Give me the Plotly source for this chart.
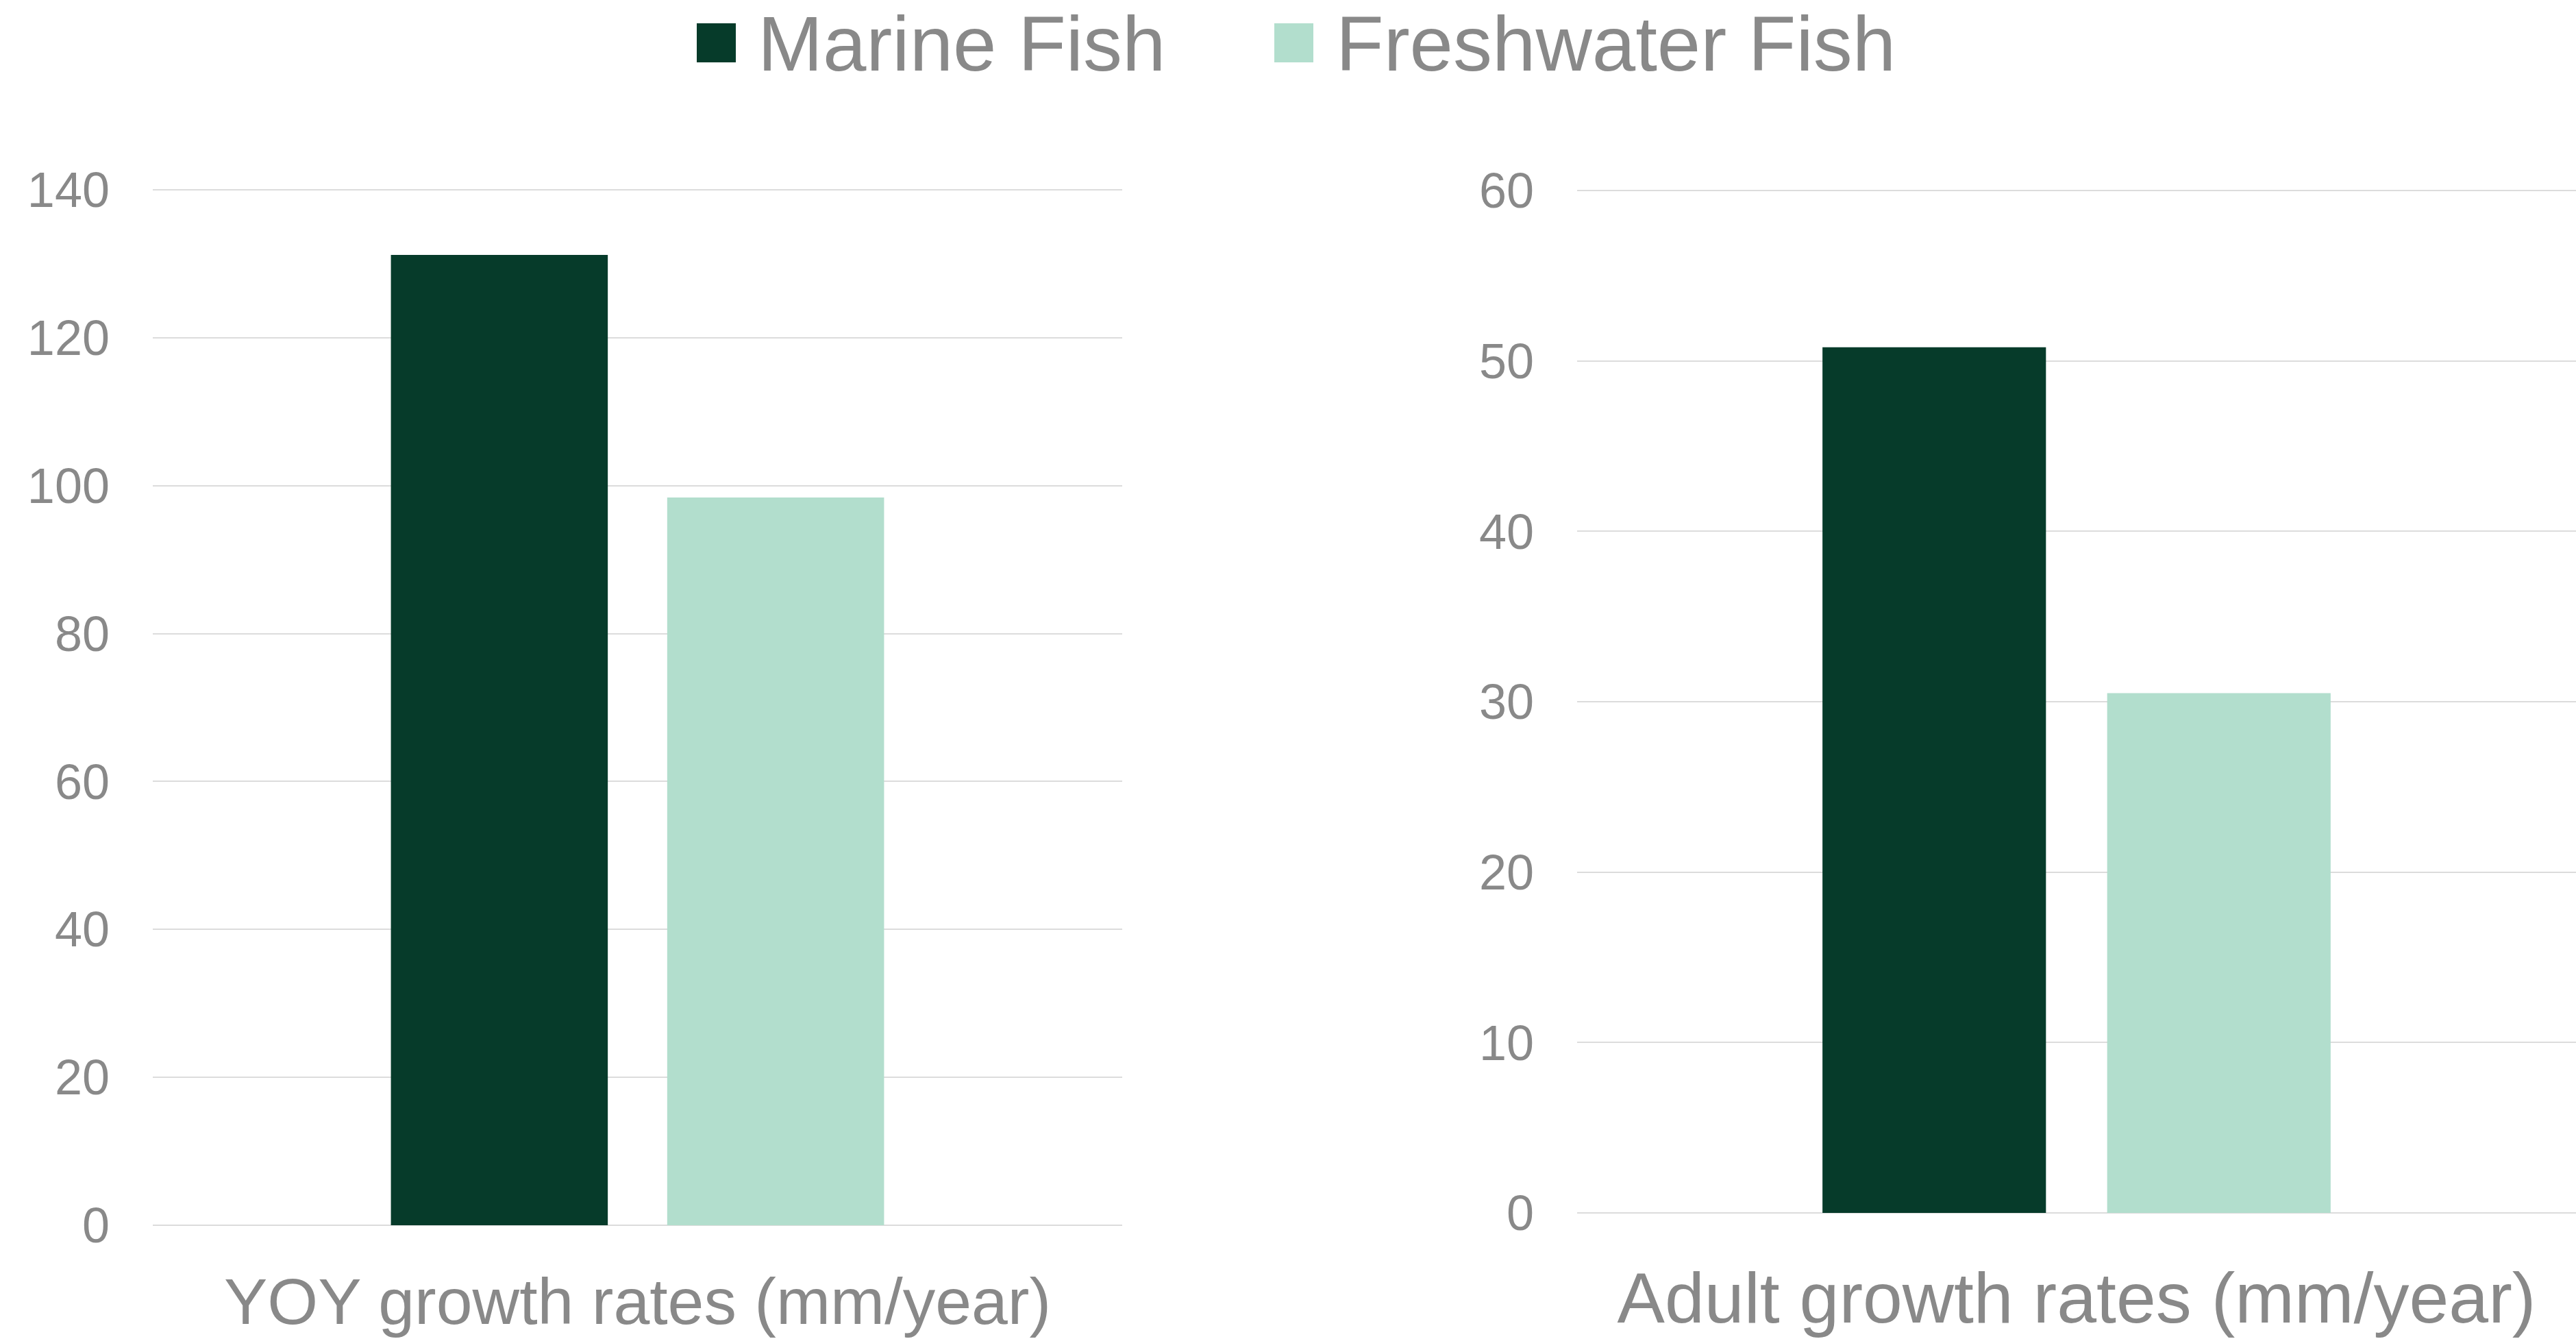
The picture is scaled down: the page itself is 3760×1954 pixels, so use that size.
import plotly.graph_objects as go

# Growth-rate categories (one per panel) and the values for each fish group
categories = ["YOY growth rates (mm/year)", "Adult growth rates (mm/year)"]
marine_fish = [131.2, 50.8]
freshwater_fish = [98.4, 30.5]

series_names = ["Marine Fish", "Freshwater Fish"]
series_colors = ["#063B2A", "#B2DECD"]

y_ranges = [(0, 140), (0, 60)]
y_dticks = [20, 10]

W, H = 3760, 1954
TEXT = "#898989"
GRID = "#DCDCDC"
FONT = "Liberation Sans, Arial, sans-serif"


def px_x(v):
    return v / W


def px_y(v):
    return 1 - v / H


fig = go.Figure()

series_values = [marine_fish, freshwater_fish]
for panel, cat in enumerate(categories):
    axis_suffix = "" if panel == 0 else str(panel + 1)
    for name, color, values in zip(series_names, series_colors, series_values):
        fig.add_trace(go.Bar(
            x=[cat], y=[values[panel]], name=name,
            marker=dict(color=color, line=dict(width=0)),
            xaxis="x" + axis_suffix, yaxis="y" + axis_suffix,
            showlegend=False,
        ))

# panel geometry: pixel rows of the lowest / highest gridline, plot columns
panels = [
    dict(x0=223, x1=1638, top=277, bottom=1788, title_size=95, standoff=48),
    dict(x0=2302, x1=3760, top=278, bottom=1770, title_size=104, standoff=55),
]
EDGE_PX = 3  # small pad so the outermost gridlines are not clipped away

layout = dict(
    width=W, height=H,
    margin=dict(l=0, r=0, t=0, b=0, autoexpand=False),
    paper_bgcolor="white", plot_bgcolor="white",
    barmode="group", bargap=0.43, bargroupgap=0.215,
    font=dict(family=FONT, color=TEXT),
    showlegend=False,
)

for i, p in enumerate(panels):
    sfx = "" if i == 0 else str(i + 1)
    lo, hi = y_ranges[i]
    px_per_unit = (p["bottom"] - p["top"]) / (hi - lo)
    pad = EDGE_PX / px_per_unit
    layout["xaxis" + sfx] = dict(
        domain=[px_x(p["x0"]), px_x(p["x1"])],
        anchor="y" + sfx,
        type="category", automargin=False,
        showgrid=False, zeroline=False, showline=False,
        ticks="", ticklabelstandoff=p["standoff"] - EDGE_PX,
        tickfont=dict(size=p["title_size"], color=TEXT, family=FONT),
        fixedrange=True,
    )
    layout["yaxis" + sfx] = dict(
        domain=[px_y(p["bottom"] + EDGE_PX), px_y(p["top"] - EDGE_PX)],
        anchor="x" + sfx,
        range=[lo - pad, hi + pad], dtick=y_dticks[i], tick0=0,
        automargin=False,
        showgrid=True, gridcolor=GRID, gridwidth=2,
        zeroline=False, showline=False,
        ticks="", ticklabelstandoff=62,
        tickfont=dict(size=72, color=TEXT, family=FONT),
        fixedrange=True,
    )

fig.update_layout(**layout)

# Legend across the top: colour square followed by series name
legend_items = [
    dict(sq_x0=1017, text_x=1104),
    dict(sq_x0=1860, text_x=1948),
]
sq_size = 57
sq_top = 34
for item, name, color in zip(legend_items, series_names, series_colors):
    fig.add_shape(
        type="rect", xref="paper", yref="paper",
        x0=px_x(item["sq_x0"]), x1=px_x(item["sq_x0"] + sq_size),
        y0=px_y(sq_top + sq_size), y1=px_y(sq_top),
        fillcolor=color, line=dict(width=0),
    )
    fig.add_annotation(
        xref="paper", yref="paper",
        x=px_x(item["text_x"]), y=px_y(64),
        xanchor="left", yanchor="middle",
        text=name, showarrow=False,
        font=dict(size=114, color=TEXT, family=FONT),
    )

fig.write_html("out.html")
